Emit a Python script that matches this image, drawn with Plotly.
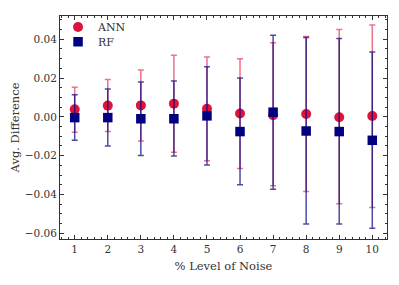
import plotly.graph_objects as go

noise = [1, 2, 3, 4, 5, 6, 7, 8, 9, 10]
ann_mean = [0.0039, 0.0058, 0.0059, 0.0068, 0.0042, 0.0017, 0.0009, 0.0015, -0.0002, 0.0004]
ann_upper = [0.0153, 0.0192, 0.0241, 0.0317, 0.0309, 0.0300, 0.0382, 0.0414, 0.0450, 0.0473]
ann_lower = [-0.0080, -0.0076, -0.0124, -0.0183, -0.0226, -0.0266, -0.0356, -0.0385, -0.0448, -0.0467]
rf_mean = [-0.0004, -0.0004, -0.0010, -0.0010, 0.0005, -0.0076, 0.0024, -0.0073, -0.0076, -0.0121]
rf_upper = [0.0114, 0.0144, 0.0180, 0.0185, 0.0258, 0.0200, 0.0421, 0.0409, 0.0404, 0.0334]
rf_lower = [-0.0121, -0.0151, -0.0199, -0.0202, -0.0249, -0.0350, -0.0373, -0.0553, -0.0553, -0.0575]

ann_plus = [u - m for u, m in zip(ann_upper, ann_mean)]
ann_minus = [m - l for l, m in zip(ann_lower, ann_mean)]
rf_plus = [u - m for u, m in zip(rf_upper, rf_mean)]
rf_minus = [m - l for l, m in zip(rf_lower, rf_mean)]

FONT = "DejaVu Serif"

fig = go.Figure()
fig.add_trace(go.Scatter(
    x=noise, y=ann_mean, mode="markers", name="ANN", legend="legend",
    marker=dict(symbol="circle", size=10, color="#DC143C"),
    error_y=dict(type="data", symmetric=False, array=ann_plus, arrayminus=ann_minus,
                 color="rgba(220,20,60,0.6)", thickness=1.5, width=3),
))
fig.add_trace(go.Scatter(
    x=noise, y=rf_mean, mode="markers", name="RF", legend="legend2",
    marker=dict(symbol="square", size=9.5, color="#000080"),
    error_y=dict(type="data", symmetric=False, array=rf_plus, arrayminus=rf_minus,
                 color="rgba(0,0,128,0.7)", thickness=1.5, width=3),
))

axis_common = dict(
    showline=True, linecolor="#333", linewidth=1, mirror="allticks",
    ticks="inside", ticklen=4, tickcolor="#333", tickwidth=1,
    showgrid=False, zeroline=False, automargin=False,
    tickfont=dict(family=FONT, size=10.5, color="#333"),
)

fig.update_xaxes(
    range=[0.555, 10.445], tickmode="array", tickvals=noise,
    ticktext=[str(v) for v in noise],
    minor=dict(ticks="inside", ticklen=2, tickcolor="#333", dtick=0.2, tick0=0),
    title=dict(text="% Level of Noise", font=dict(family=FONT, size=11.5, color="#333"), standoff=8),
    **axis_common,
)
fig.update_yaxes(
    range=[-0.0630, 0.0520], tickmode="array",
    tickvals=[-0.06, -0.04, -0.02, 0.0, 0.02, 0.04],
    tickformat=".2f",
    minor=dict(ticks="inside", ticklen=2, tickcolor="#333", dtick=0.005, tick0=0),
    title=dict(text="Avg. Difference", font=dict(family=FONT, size=11.5, color="#333"), standoff=8),
    **axis_common,
)

leg_common = dict(xanchor="left", yanchor="middle", bgcolor="rgba(0,0,0,0)",
                  font=dict(family=FONT, size=11, color="#333"), itemwidth=30)

# page body has an 8px default margin, so the figure is shifted by 8px
fig.update_layout(
    width=383, height=269,
    margin=dict(l=52, r=4, t=5, b=38),
    paper_bgcolor="white", plot_bgcolor="white",
    font=dict(family=FONT, size=11, color="#333"),
    showlegend=True,
    legend=dict(x=-0.006, y=0.951, **leg_common),
    legend2=dict(x=-0.006, y=0.885, **leg_common),
)

fig.write_html("out.html")
